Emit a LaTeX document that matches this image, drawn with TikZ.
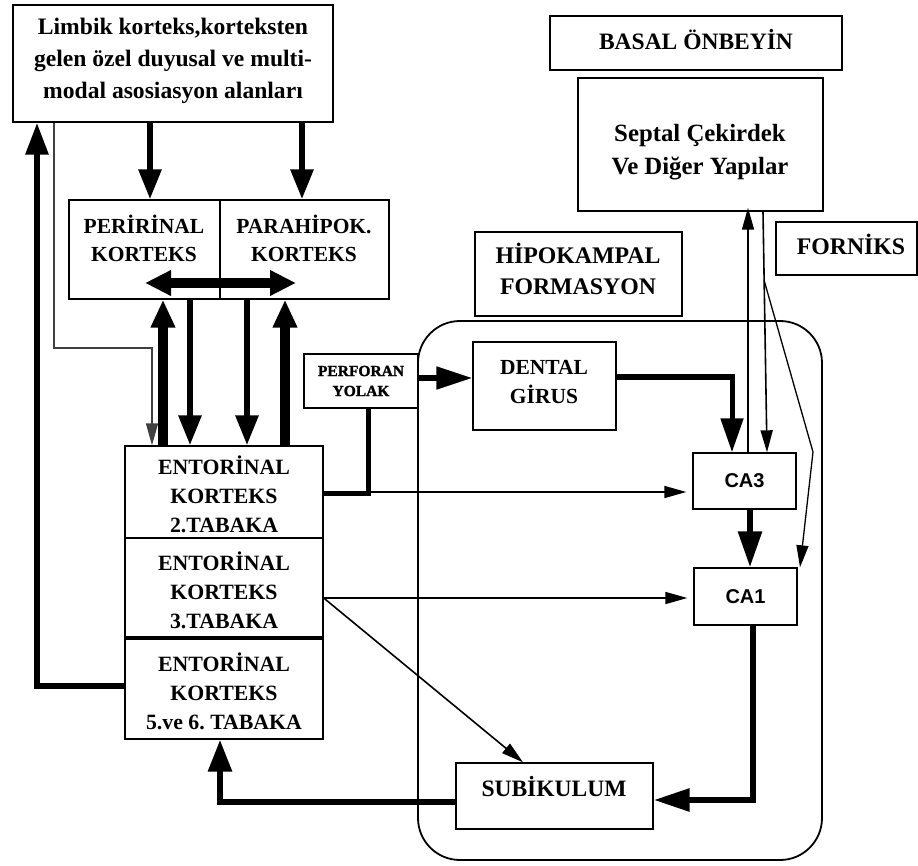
\documentclass[tikz,border=0pt]{standalone}
\usepackage{fontspec}
\setmainfont{Liberation Serif}
\newfontfamily\sansf{Liberation Sans}
\newfontfamily\heavyf{Liberation Serif Bold}[FakeBold=1.5]
\usetikzlibrary{arrows.meta,fit,calc}
\frenchspacing
\begin{document}
\frenchspacing
\begin{tikzpicture}[x=1pt,y=-1pt,
  box/.style={draw, line width=1.4pt, inner sep=0pt},
  txt/.style={font=\bfseries\fontsize{23.5}{31}\selectfont, align=center, inner sep=0pt},
  heavy/.style={line width=10pt, -{Triangle[length=28pt,width=23pt]}},
  boldar/.style={line width=6pt, -{Triangle[length=30pt,width=22pt]}},
  fine/.style={line width=1.6pt, -{Triangle[length=22pt,width=12pt]}},
]
\useasboundingbox[fill=white] (0,0) rectangle (918,866);

% hippocampal formation frame
\node[draw, line width=1.8pt, rounded corners=42pt, inner sep=0pt, fit={(418,321) (822,860)}] (hf) {};

% boxes
\node[box, fit={(13,5) (333,122)}] (limbik) {};
\node[box, fit={(550,16) (842,70)}] (basal) {};
\node[box, fit={(578,78) (823,211)}] (sept) {};
\node[box, fit={(475,232) (682,316)}] (hipo) {};
\node[box, fit={(776,222) (917,275)}] (forn) {};
\node[box, fit={(69,200) (220,299)}] (peri) {};
\node[box, fit={(220,200) (389,299)}] (para) {};
\node[box, fit={(304,354) (418,408)}] (perf) {};
\node[box, fit={(473,342) (616,430)}] (dg) {};
\node[box, fit={(125,446) (323,538)}] (e2) {};
\node[box, fit={(125,538) (323,639)}] (e3) {};
\node[box, fit={(125,639) (323,739)}] (e56) {};
\node[box, fit={(693,453) (796,509)}] (ca3) {};
\node[box, fit={(694,568) (797,625)}] (ca1) {};
\node[box, fit={(456,763) (653,829)}] (sub) {};
\draw[line width=4pt] (e56.north west) -- (e56.north east);

% texts
\node[txt, font=\bfseries\fontsize{23.6}{32}\selectfont] (limbikT) at (173,61) {Limbik korteks,korteksten\\gelen özel duyusal ve multi-\\modal asosiasyon alanları};
\node[txt] (basalT) at (696,40) {BASAL ÖNBEYİN};
\node[txt, font=\bfseries\fontsize{24.8}{33}\selectfont] (septT) at (700,152) {Septal Çekirdek\\Ve Diğer Yapılar};
\node[txt, font=\bfseries\fontsize{23.8}{31}\selectfont] (hipoT) at (578,269) {HİPOKAMPAL\\FORMASYON};
\node[txt, font=\bfseries\fontsize{23.8}{31}\selectfont] (fornT) at (851,244) {FORNİKS};
\node[txt, font=\bfseries\fontsize{21.5}{28}\selectfont] (periT) at (144,238) {PERİRİNAL\\KORTEKS};
\node[txt, font=\bfseries\fontsize{21.5}{28}\selectfont] (paraT) at (304,238) {PARAHİPOK.\\KORTEKS};
\node[txt, font=\heavyf\fontsize{15.5}{20}\selectfont] (perfT) at (361,381) {PERFORAN\\YOLAK};
\node[txt, font=\bfseries\fontsize{21.5}{29}\selectfont] (dgT) at (544,382) {DENTAL\\GİRUS};
\node[txt, font=\bfseries\fontsize{21.8}{29}\selectfont] (e2T) at (224,494) {ENTORİNAL\\KORTEKS\\2.TABAKA};
\node[txt, font=\bfseries\fontsize{21.8}{29}\selectfont] (e3T) at (224,590) {ENTORİNAL\\KORTEKS\\3.TABAKA};
\node[txt, font=\bfseries\fontsize{21.8}{29}\selectfont] (e56T) at (224,691) {ENTORİNAL\\KORTEKS\\5.ve 6. TABAKA};
\node[txt, font=\sansf\bfseries\fontsize{20}{22}\selectfont] (ca3T) at (ca3) {CA3};
\node[txt, font=\sansf\bfseries\fontsize{20}{22}\selectfont] (ca1T) at (ca1) {CA1};
\node[txt, font=\bfseries\fontsize{23.5}{29}\selectfont] (subT) at (554,787) {SUBİKULUM};

% double arrow inside perirhinal/parahippocampal
\coordinate (dl) at (145,283);
\coordinate (dr) at (296,283);
\draw[line width=10pt, {Triangle[length=26pt,width=24pt]}-{Triangle[length=26pt,width=24pt]}] (dl) -- (dr);

% limbic -> perirhinal / parahippocampal
\draw[boldar] (150,0 |- limbik.south) -- (150,0 |- peri.north);
\draw[boldar] (302,0 |- limbik.south) -- (302,0 |- para.north);

% entorhinal <-> perirhinal / parahippocampal
\draw[heavy] (163,0 |- e2.north) -- (163,0 |- peri.south);
\draw[boldar] (190,0 |- peri.south) -- (190,0 |- e2.north);
\draw[boldar] (247,0 |- para.south) -- (247,0 |- e2.north);
\draw[heavy] (285,0 |- e2.north) -- (285,0 |- para.south);

% thin line limbic -> entorhinal
\draw[fine, black!75] (54,0 |- limbik.south) -- (54,348) -| (152,0 |- e2.north);

% entorhinal 5/6 -> limbic
\draw[line width=6pt, -{Triangle[length=32pt,width=22pt]}] (e56.west |- 0,686) -| (37,0 |- limbik.south);

% entorhinal 2 -> perforant path
\draw[line width=5pt] (e2.east |- 0,493) -| (368,0 |- perf.south);
\draw[fine] (368,492) -- ([xshift=-6pt]ca3.west |- 0,492);

% perforant -> dentate
\draw[line width=5pt, -{Triangle[length=36pt,width=22pt]}] (perf.east |- 0,378) -- (dg.west |- 0,378);

% dentate -> CA3
\draw[line width=5pt, -{Triangle[length=34pt,width=22pt]}] (dg.east |- 0,377) -| (732,0 |- ca3.north);

% CA3 -> CA1
\draw[line width=6pt, -{Triangle[length=36pt,width=23pt]}] (750,0 |- ca3.south) -- (750,0 |- ca1.north);

% septal connections
\draw[fine] (748,0 |- ca3.north) -- ([yshift=4pt]748,0 |- sept.south);
\draw[fine] (763,0 |- sept.south) -- (767,0 |- ca3.north);
\draw[fine, line width=1.3pt] (764,280) -- (813,452) -- (800,0 |- ca1.north);

% entorhinal 3 -> CA1 and subiculum
\draw[fine] (e3.east |- 0,598) -- ([xshift=-6pt]ca1.west |- 0,598);
\draw[fine] (e3.east |- 0,598) -- (523,0 |- sub.north);

% CA1 -> subiculum
\draw[line width=6pt, -{Triangle[length=36pt,width=22pt]}] (753,0 |- ca1.south) |- (sub.east |- 0,800);

% subiculum -> entorhinal 5/6
\draw[line width=6pt, -{Triangle[length=32pt,width=23pt]}] (sub.west |- 0,802) -| (220,0 |- e56.south);
\end{tikzpicture}
\end{document}
